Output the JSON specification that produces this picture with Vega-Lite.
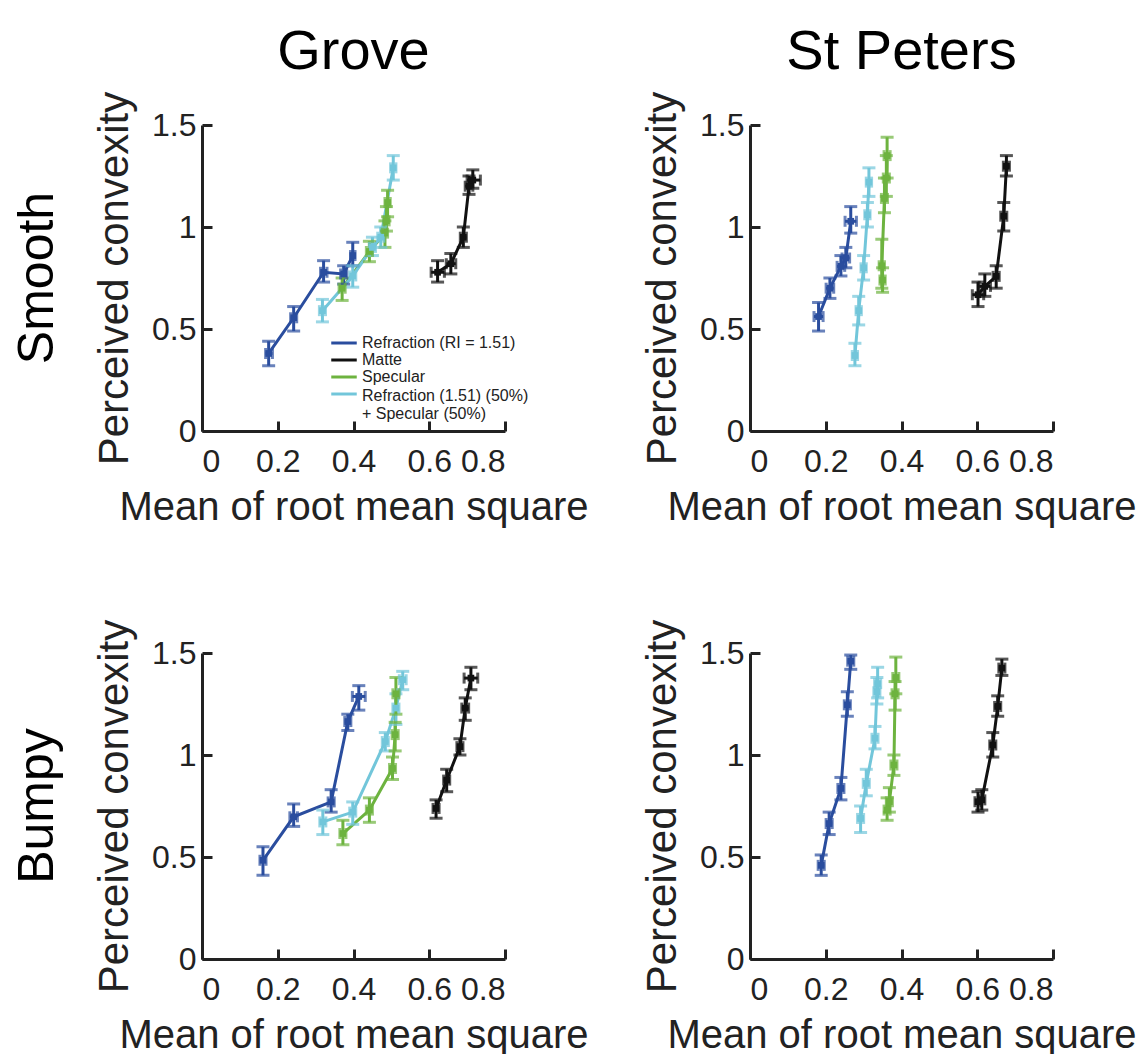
{
  "$schema": "https://vega.github.io/schema/vega-lite/v6.json",
  "padding": {"left": 13, "top": 24, "right": 5, "bottom": 0},
  "config": {
    "view": {"stroke": null},
    "font": "Liberation Sans",
    "axis": {
      "grid": false,
      "domainColor": "#222222",
      "domainWidth": 3,
      "tickColor": "#222222",
      "tickWidth": 3,
      "tickSize": -10,
      "labelFontSize": 32,
      "labelColor": "#222222",
      "labelFont": "Liberation Sans",
      "titleFont": "Liberation Sans",
      "titleFontWeight": "normal",
      "titleColor": "#222222"
    },
    "axisX": {"labelPadding": 25, "titlePadding": 10, "titleFontSize": 40},
    "axisY": {"labelPadding": 16, "titlePadding": 15, "titleFontSize": 42},
    "header": {"labelFont": "Liberation Sans", "labelColor": "#000000"}
  },
  "data": {
    "values": [
      {"c": "Grove", "s": "Smooth", "m": "R", "i": 1, "x": 0.176, "xl": 0.168, "xh": 0.186, "y": 0.38, "yl": 0.32, "yh": 0.44},
      {"c": "Grove", "s": "Smooth", "m": "R", "i": 2, "x": 0.242, "xl": 0.234, "xh": 0.25, "y": 0.555, "yl": 0.49, "yh": 0.61},
      {"c": "Grove", "s": "Smooth", "m": "R", "i": 3, "x": 0.321, "xl": 0.313, "xh": 0.33, "y": 0.778, "yl": 0.73, "yh": 0.835},
      {"c": "Grove", "s": "Smooth", "m": "R", "i": 4, "x": 0.374, "xl": 0.366, "xh": 0.382, "y": 0.77, "yl": 0.72, "yh": 0.81},
      {"c": "Grove", "s": "Smooth", "m": "R", "i": 5, "x": 0.398, "xl": 0.392, "xh": 0.404, "y": 0.86, "yl": 0.81, "yh": 0.925},
      {"c": "Grove", "s": "Smooth", "m": "S", "i": 1, "x": 0.37, "xl": 0.362, "xh": 0.378, "y": 0.7, "yl": 0.64, "yh": 0.75},
      {"c": "Grove", "s": "Smooth", "m": "S", "i": 2, "x": 0.442, "xl": 0.434, "xh": 0.45, "y": 0.88, "yl": 0.83, "yh": 0.93},
      {"c": "Grove", "s": "Smooth", "m": "S", "i": 3, "x": 0.483, "xl": 0.476, "xh": 0.49, "y": 0.97, "yl": 0.9, "yh": 1.03},
      {"c": "Grove", "s": "Smooth", "m": "S", "i": 4, "x": 0.487, "xl": 0.48, "xh": 0.494, "y": 1.03, "yl": 0.98, "yh": 1.1},
      {"c": "Grove", "s": "Smooth", "m": "S", "i": 5, "x": 0.49, "xl": 0.483, "xh": 0.497, "y": 1.12, "yl": 1.05, "yh": 1.18},
      {"c": "Grove", "s": "Smooth", "m": "RS", "i": 1, "x": 0.318, "xl": 0.31, "xh": 0.326, "y": 0.59, "yl": 0.535, "yh": 0.645},
      {"c": "Grove", "s": "Smooth", "m": "RS", "i": 2, "x": 0.398, "xl": 0.39, "xh": 0.406, "y": 0.76, "yl": 0.705, "yh": 0.81},
      {"c": "Grove", "s": "Smooth", "m": "RS", "i": 3, "x": 0.45, "xl": 0.442, "xh": 0.458, "y": 0.9, "yl": 0.86, "yh": 0.95},
      {"c": "Grove", "s": "Smooth", "m": "RS", "i": 4, "x": 0.472, "xl": 0.464, "xh": 0.48, "y": 0.95, "yl": 0.9, "yh": 1.0},
      {"c": "Grove", "s": "Smooth", "m": "RS", "i": 5, "x": 0.505, "xl": 0.498, "xh": 0.512, "y": 1.29, "yl": 1.23, "yh": 1.35},
      {"c": "Grove", "s": "Smooth", "m": "M", "i": 1, "x": 0.622, "xl": 0.605, "xh": 0.64, "y": 0.778, "yl": 0.73, "yh": 0.835},
      {"c": "Grove", "s": "Smooth", "m": "M", "i": 2, "x": 0.657, "xl": 0.645, "xh": 0.67, "y": 0.82, "yl": 0.77, "yh": 0.87},
      {"c": "Grove", "s": "Smooth", "m": "M", "i": 3, "x": 0.69, "xl": 0.682, "xh": 0.698, "y": 0.95, "yl": 0.9, "yh": 1.0},
      {"c": "Grove", "s": "Smooth", "m": "M", "i": 4, "x": 0.705, "xl": 0.695, "xh": 0.715, "y": 1.2, "yl": 1.16, "yh": 1.25},
      {"c": "Grove", "s": "Smooth", "m": "M", "i": 5, "x": 0.715, "xl": 0.7, "xh": 0.735, "y": 1.23, "yl": 1.19, "yh": 1.28},

      {"c": "St Peters", "s": "Smooth", "m": "R", "i": 1, "x": 0.181, "xl": 0.169, "xh": 0.193, "y": 0.561, "yl": 0.49, "yh": 0.63},
      {"c": "St Peters", "s": "Smooth", "m": "R", "i": 2, "x": 0.211, "xl": 0.201, "xh": 0.221, "y": 0.7, "yl": 0.65, "yh": 0.75},
      {"c": "St Peters", "s": "Smooth", "m": "R", "i": 3, "x": 0.24, "xl": 0.23, "xh": 0.25, "y": 0.807, "yl": 0.76, "yh": 0.86},
      {"c": "St Peters", "s": "Smooth", "m": "R", "i": 4, "x": 0.253, "xl": 0.243, "xh": 0.263, "y": 0.848, "yl": 0.8, "yh": 0.9},
      {"c": "St Peters", "s": "Smooth", "m": "R", "i": 5, "x": 0.266, "xl": 0.251, "xh": 0.281, "y": 1.028, "yl": 0.97, "yh": 1.1},
      {"c": "St Peters", "s": "Smooth", "m": "RS", "i": 1, "x": 0.277, "xl": 0.27, "xh": 0.284, "y": 0.37, "yl": 0.32, "yh": 0.43},
      {"c": "St Peters", "s": "Smooth", "m": "RS", "i": 2, "x": 0.287, "xl": 0.28, "xh": 0.294, "y": 0.59, "yl": 0.52, "yh": 0.66},
      {"c": "St Peters", "s": "Smooth", "m": "RS", "i": 3, "x": 0.3, "xl": 0.293, "xh": 0.307, "y": 0.8, "yl": 0.74, "yh": 0.86},
      {"c": "St Peters", "s": "Smooth", "m": "RS", "i": 4, "x": 0.31, "xl": 0.303, "xh": 0.317, "y": 1.06, "yl": 1.0, "yh": 1.12},
      {"c": "St Peters", "s": "Smooth", "m": "RS", "i": 5, "x": 0.314, "xl": 0.307, "xh": 0.321, "y": 1.22, "yl": 1.15, "yh": 1.29},
      {"c": "St Peters", "s": "Smooth", "m": "S", "i": 1, "x": 0.35, "xl": 0.343, "xh": 0.357, "y": 0.74, "yl": 0.68, "yh": 0.8},
      {"c": "St Peters", "s": "Smooth", "m": "S", "i": 2, "x": 0.348, "xl": 0.341, "xh": 0.355, "y": 0.81, "yl": 0.7, "yh": 0.94},
      {"c": "St Peters", "s": "Smooth", "m": "S", "i": 3, "x": 0.355, "xl": 0.347, "xh": 0.363, "y": 1.14, "yl": 1.07, "yh": 1.24},
      {"c": "St Peters", "s": "Smooth", "m": "S", "i": 4, "x": 0.36, "xl": 0.352, "xh": 0.368, "y": 1.24, "yl": 1.15, "yh": 1.35},
      {"c": "St Peters", "s": "Smooth", "m": "S", "i": 5, "x": 0.362, "xl": 0.354, "xh": 0.37, "y": 1.35, "yl": 1.24, "yh": 1.44},
      {"c": "St Peters", "s": "Smooth", "m": "M", "i": 1, "x": 0.602, "xl": 0.587, "xh": 0.617, "y": 0.668, "yl": 0.61, "yh": 0.73},
      {"c": "St Peters", "s": "Smooth", "m": "M", "i": 2, "x": 0.62, "xl": 0.605, "xh": 0.635, "y": 0.709, "yl": 0.66, "yh": 0.77},
      {"c": "St Peters", "s": "Smooth", "m": "M", "i": 3, "x": 0.65, "xl": 0.642, "xh": 0.658, "y": 0.758, "yl": 0.7, "yh": 0.81},
      {"c": "St Peters", "s": "Smooth", "m": "M", "i": 4, "x": 0.67, "xl": 0.662, "xh": 0.678, "y": 1.053, "yl": 0.98, "yh": 1.12},
      {"c": "St Peters", "s": "Smooth", "m": "M", "i": 5, "x": 0.677, "xl": 0.669, "xh": 0.685, "y": 1.298, "yl": 1.25, "yh": 1.35},

      {"c": "Grove", "s": "Bumpy", "m": "R", "i": 1, "x": 0.161, "xl": 0.153, "xh": 0.169, "y": 0.484, "yl": 0.41, "yh": 0.55},
      {"c": "Grove", "s": "Bumpy", "m": "R", "i": 2, "x": 0.242, "xl": 0.232, "xh": 0.252, "y": 0.697, "yl": 0.65, "yh": 0.76},
      {"c": "Grove", "s": "Bumpy", "m": "R", "i": 3, "x": 0.341, "xl": 0.333, "xh": 0.349, "y": 0.77, "yl": 0.72, "yh": 0.83},
      {"c": "Grove", "s": "Bumpy", "m": "R", "i": 4, "x": 0.385, "xl": 0.377, "xh": 0.393, "y": 1.164, "yl": 1.12, "yh": 1.2},
      {"c": "Grove", "s": "Bumpy", "m": "R", "i": 5, "x": 0.414, "xl": 0.397, "xh": 0.431, "y": 1.287, "yl": 1.22, "yh": 1.34},
      {"c": "Grove", "s": "Bumpy", "m": "RS", "i": 1, "x": 0.319, "xl": 0.311, "xh": 0.327, "y": 0.672, "yl": 0.61, "yh": 0.73},
      {"c": "Grove", "s": "Bumpy", "m": "RS", "i": 2, "x": 0.398, "xl": 0.39, "xh": 0.406, "y": 0.72, "yl": 0.66, "yh": 0.77},
      {"c": "Grove", "s": "Bumpy", "m": "RS", "i": 3, "x": 0.484, "xl": 0.476, "xh": 0.492, "y": 1.066, "yl": 1.02, "yh": 1.11},
      {"c": "Grove", "s": "Bumpy", "m": "RS", "i": 4, "x": 0.512, "xl": 0.504, "xh": 0.52, "y": 1.23, "yl": 1.15, "yh": 1.3},
      {"c": "Grove", "s": "Bumpy", "m": "RS", "i": 5, "x": 0.53, "xl": 0.521, "xh": 0.539, "y": 1.369, "yl": 1.32, "yh": 1.41},
      {"c": "Grove", "s": "Bumpy", "m": "S", "i": 1, "x": 0.372, "xl": 0.364, "xh": 0.38, "y": 0.615, "yl": 0.56, "yh": 0.68},
      {"c": "Grove", "s": "Bumpy", "m": "S", "i": 2, "x": 0.442, "xl": 0.434, "xh": 0.45, "y": 0.73, "yl": 0.67, "yh": 0.79},
      {"c": "Grove", "s": "Bumpy", "m": "S", "i": 3, "x": 0.503, "xl": 0.495, "xh": 0.511, "y": 0.934, "yl": 0.88, "yh": 0.99},
      {"c": "Grove", "s": "Bumpy", "m": "S", "i": 4, "x": 0.51, "xl": 0.502, "xh": 0.518, "y": 1.1, "yl": 1.02, "yh": 1.16},
      {"c": "Grove", "s": "Bumpy", "m": "S", "i": 5, "x": 0.512, "xl": 0.504, "xh": 0.52, "y": 1.3, "yl": 1.2, "yh": 1.38},
      {"c": "Grove", "s": "Bumpy", "m": "M", "i": 1, "x": 0.618, "xl": 0.61, "xh": 0.626, "y": 0.738, "yl": 0.69, "yh": 0.78},
      {"c": "Grove", "s": "Bumpy", "m": "M", "i": 2, "x": 0.646, "xl": 0.638, "xh": 0.654, "y": 0.877, "yl": 0.82, "yh": 0.93},
      {"c": "Grove", "s": "Bumpy", "m": "M", "i": 3, "x": 0.681, "xl": 0.673, "xh": 0.689, "y": 1.041, "yl": 1.0, "yh": 1.08},
      {"c": "Grove", "s": "Bumpy", "m": "M", "i": 4, "x": 0.695, "xl": 0.686, "xh": 0.704, "y": 1.23, "yl": 1.17, "yh": 1.28},
      {"c": "Grove", "s": "Bumpy", "m": "M", "i": 5, "x": 0.71, "xl": 0.692, "xh": 0.728, "y": 1.377, "yl": 1.32, "yh": 1.43},

      {"c": "St Peters", "s": "Bumpy", "m": "R", "i": 1, "x": 0.188, "xl": 0.18, "xh": 0.196, "y": 0.459, "yl": 0.41, "yh": 0.51},
      {"c": "St Peters", "s": "Bumpy", "m": "R", "i": 2, "x": 0.209, "xl": 0.201, "xh": 0.217, "y": 0.664, "yl": 0.61, "yh": 0.72},
      {"c": "St Peters", "s": "Bumpy", "m": "R", "i": 3, "x": 0.24, "xl": 0.232, "xh": 0.248, "y": 0.836, "yl": 0.78, "yh": 0.89},
      {"c": "St Peters", "s": "Bumpy", "m": "R", "i": 4, "x": 0.257, "xl": 0.249, "xh": 0.265, "y": 1.246, "yl": 1.19, "yh": 1.31},
      {"c": "St Peters", "s": "Bumpy", "m": "R", "i": 5, "x": 0.266, "xl": 0.258, "xh": 0.274, "y": 1.46, "yl": 1.42, "yh": 1.49},
      {"c": "St Peters", "s": "Bumpy", "m": "RS", "i": 1, "x": 0.292, "xl": 0.284, "xh": 0.3, "y": 0.689, "yl": 0.62, "yh": 0.75},
      {"c": "St Peters", "s": "Bumpy", "m": "RS", "i": 2, "x": 0.307, "xl": 0.299, "xh": 0.315, "y": 0.861, "yl": 0.8, "yh": 0.93},
      {"c": "St Peters", "s": "Bumpy", "m": "RS", "i": 3, "x": 0.33, "xl": 0.322, "xh": 0.338, "y": 1.082, "yl": 1.03, "yh": 1.14},
      {"c": "St Peters", "s": "Bumpy", "m": "RS", "i": 4, "x": 0.335, "xl": 0.327, "xh": 0.343, "y": 1.31, "yl": 1.25, "yh": 1.38},
      {"c": "St Peters", "s": "Bumpy", "m": "RS", "i": 5, "x": 0.337, "xl": 0.329, "xh": 0.345, "y": 1.35, "yl": 1.28, "yh": 1.43},
      {"c": "St Peters", "s": "Bumpy", "m": "S", "i": 1, "x": 0.362, "xl": 0.354, "xh": 0.37, "y": 0.73, "yl": 0.68, "yh": 0.79},
      {"c": "St Peters", "s": "Bumpy", "m": "S", "i": 2, "x": 0.368, "xl": 0.36, "xh": 0.376, "y": 0.771, "yl": 0.72, "yh": 0.84},
      {"c": "St Peters", "s": "Bumpy", "m": "S", "i": 3, "x": 0.38, "xl": 0.372, "xh": 0.388, "y": 0.951, "yl": 0.9, "yh": 1.0},
      {"c": "St Peters", "s": "Bumpy", "m": "S", "i": 4, "x": 0.383, "xl": 0.375, "xh": 0.391, "y": 1.3, "yl": 1.22, "yh": 1.36},
      {"c": "St Peters", "s": "Bumpy", "m": "S", "i": 5, "x": 0.385, "xl": 0.377, "xh": 0.393, "y": 1.38, "yl": 1.3, "yh": 1.48},
      {"c": "St Peters", "s": "Bumpy", "m": "M", "i": 1, "x": 0.602, "xl": 0.594, "xh": 0.61, "y": 0.771, "yl": 0.72, "yh": 0.82},
      {"c": "St Peters", "s": "Bumpy", "m": "M", "i": 2, "x": 0.612, "xl": 0.604, "xh": 0.62, "y": 0.78, "yl": 0.73, "yh": 0.83},
      {"c": "St Peters", "s": "Bumpy", "m": "M", "i": 3, "x": 0.641, "xl": 0.633, "xh": 0.649, "y": 1.049, "yl": 0.99, "yh": 1.11},
      {"c": "St Peters", "s": "Bumpy", "m": "M", "i": 4, "x": 0.654, "xl": 0.646, "xh": 0.662, "y": 1.238, "yl": 1.19, "yh": 1.29},
      {"c": "St Peters", "s": "Bumpy", "m": "M", "i": 5, "x": 0.665, "xl": 0.657, "xh": 0.673, "y": 1.426, "yl": 1.39, "yh": 1.47}
    ]
  },
  "facet": {
    "row": {"field": "s", "type": "nominal", "sort": "descending", "title": null,
      "header": {"labelFontSize": 50, "labelAngle": -90, "labelOrient": "left", "labelPadding": 5}},
    "column": {"field": "c", "type": "nominal", "sort": "ascending", "title": null,
      "header": {"labelFontSize": 56, "labelPadding": 10}}
  },
  "spacing": {"row": 92, "column": 52},
  "resolve": {"axis": {"x": "independent", "y": "independent"}},
  "spec": {
    "width": 303,
    "height": 306,
    "encoding": {
      "color": {"field": "m", "type": "nominal",
        "scale": {"domain": ["R", "M", "S", "RS"], "range": ["#2a4d9e", "#111111", "#6db33f", "#72c6da"]},
        "legend": {"orient": "none", "legendX": 133, "legendY": 209, "title": null, "labelFontSize": 16, "labelLimit": 300,
          "symbolType": "M-1.7,0H1.7", "symbolStrokeWidth": 3, "symbolSize": 225, "rowPadding": 0, "labelOffset": 9,
          "labelColor": "#222222",
          "labelExpr": "datum.label == 'R' ? 'Refraction (RI = 1.51)' : datum.label == 'M' ? 'Matte' : datum.label == 'S' ? 'Specular' : ['Refraction (1.51) (50%)', '\u00a0\u00a0\u00a0+ Specular (50%)']",
          "encode": {"labels": {"update": {"dy": {"signal": "datum.value == 'RS' ? 2 : 0"}}}}}}
    },
    "layer": [
      {"mark": {"type": "line", "strokeWidth": 3},
        "encoding": {
          "x": {"field": "x", "type": "quantitative", "title": "Mean of root mean square", "scale": {"domain": [0, 0.8], "nice": false}, "axis": {"values": [0, 0.2, 0.4, 0.6, 0.8], "format": "~g"}},
          "y": {"field": "y", "type": "quantitative", "title": "Perceived convexity", "scale": {"domain": [0, 1.5], "nice": false}, "axis": {"values": [0, 0.5, 1, 1.5], "format": "~g"}},
          "order": {"field": "i", "type": "quantitative"}}},
      {"mark": {"type": "rule", "strokeWidth": 3},
        "encoding": {
          "x": {"field": "xl", "type": "quantitative", "title": "Mean of root mean square"},
          "x2": {"field": "xh"},
          "y": {"field": "y", "type": "quantitative", "title": "Perceived convexity"}}},
      {"mark": {"type": "rule", "strokeWidth": 3},
        "encoding": {
          "x": {"field": "x", "type": "quantitative", "title": "Mean of root mean square"},
          "y": {"field": "yl", "type": "quantitative", "title": "Perceived convexity"},
          "y2": {"field": "yh"}}},
      {"mark": {"type": "tick", "orient": "horizontal", "size": 13, "thickness": 3},
        "encoding": {
          "x": {"field": "x", "type": "quantitative", "title": "Mean of root mean square"},
          "y": {"field": "yl", "type": "quantitative", "title": "Perceived convexity"}}},
      {"mark": {"type": "tick", "orient": "horizontal", "size": 13, "thickness": 3},
        "encoding": {
          "x": {"field": "x", "type": "quantitative", "title": "Mean of root mean square"},
          "y": {"field": "yh", "type": "quantitative", "title": "Perceived convexity"}}},
      {"mark": {"type": "tick", "orient": "vertical", "size": 11, "thickness": 3},
        "encoding": {
          "x": {"field": "xl", "type": "quantitative", "title": "Mean of root mean square"},
          "y": {"field": "y", "type": "quantitative", "title": "Perceived convexity"}}},
      {"mark": {"type": "tick", "orient": "vertical", "size": 11, "thickness": 3},
        "encoding": {
          "x": {"field": "xh", "type": "quantitative", "title": "Mean of root mean square"},
          "y": {"field": "y", "type": "quantitative", "title": "Perceived convexity"}}},
      {"mark": {"type": "point", "shape": "square", "filled": true, "size": 45, "opacity": 1},
        "encoding": {
          "x": {"field": "x", "type": "quantitative", "title": "Mean of root mean square"},
          "y": {"field": "y", "type": "quantitative", "title": "Perceived convexity"}}}
    ]
  }
}
